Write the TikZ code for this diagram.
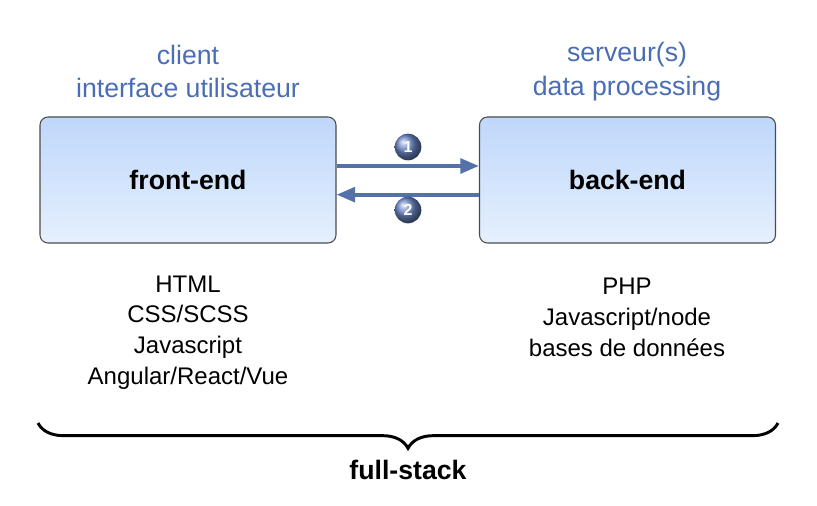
\documentclass[tikz,border=0pt]{standalone}
\usepackage{fontspec}
\setmainfont{Liberation Sans}
\usetikzlibrary{positioning,arrows.meta,decorations.pathreplacing,shadings}
\definecolor{boxtop}{HTML}{BFD7FB}
\definecolor{boxbot}{HTML}{E5F0FD}
\definecolor{titleblue}{HTML}{4A6DB6}
\definecolor{arrowblue}{HTML}{5571AA}
\definecolor{ballblue}{HTML}{6C88C6}
\tikzset{
  tier/.style={draw=black!70, line width=0.8pt, rounded corners=6pt, top color=boxtop, bottom color=boxbot,
    minimum width=222pt, minimum height=94.5pt, font=\fontsize{20}{24}\selectfont\bfseries},
  title/.style={text=titleblue, align=center, font=\fontsize{20}{25}\selectfont},
  techlist/.style={align=center, font=\fontsize{18}{23}\selectfont},
  flow/.style={draw=arrowblue, line width=3pt, -{Triangle[length=14pt,width=11pt]}},
  stepball/.style={circle, minimum size=20pt, inner sep=0pt, ball color=ballblue, text=white,
    font=\fontsize{12}{12}\selectfont\bfseries}
}
\begin{document}
\begin{tikzpicture}[x=0.75pt,y=0.75pt]
\useasboundingbox (0,0) rectangle (817,506);
\node[tier] (front) at (188,326) {front-end};
\node[tier] (back) at (627.5,326) {back-end};
\node[title] (fronttitle) at (188,434.5) {client\\interface utilisateur};
\node[title] (backtitle) at (627,434.5) {serveur(s)\\data processing};
\node[techlist] (frontlist) at (188,173.5) {HTML\\CSS/SCSS\\Javascript\\Angular/React/Vue};
\node[techlist] (backlist) at (627,188.5) {PHP\\Javascript/node\\bases de données};
\draw[flow] ([yshift=10.5pt]front.east) -- ([yshift=10.5pt]back.west);
\draw[flow] ([yshift=-11pt]back.west) -- ([yshift=-11pt]front.east);
\node[stepball] (ball1) at (408,359) {1};
\node[stepball] (ball2) at (408,296) {2};
\coordinate (braceleft) at (38,83);
\coordinate (braceright) at (778,83);
\draw[line width=2.2pt, decorate, decoration={brace, mirror, amplitude=19pt}] (braceleft) -- (braceright);
\node[font=\fontsize{20}{24}\selectfont\bfseries] (fullstack) at (408,36) {full-stack};
\end{tikzpicture}
\end{document}
